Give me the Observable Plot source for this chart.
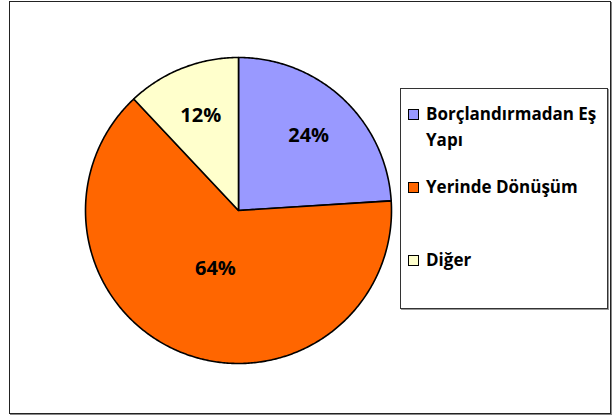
<!DOCTYPE html>
<html>
<head>
<meta charset="utf-8">
<script src="https://cdn.jsdelivr.net/npm/d3@7"></script>
<script src="https://cdn.jsdelivr.net/npm/@observablehq/plot@0.6"></script>
<style>
  html, body { margin: 0; padding: 0; background: #fff; }
  #wrap { position: relative; width: 613px; height: 417px; overflow: hidden; font-family: "Open Sans", sans-serif; }
  #frame { position: absolute; left: 9px; top: 1px; width: 600px; height: 411px; border: 1px solid #222; box-shadow: 1px 1px 0 #888; }
  #chart { position: absolute; left: 0; top: 0; }
  #legend { position: absolute; left: 400px; top: 88px; width: 206px; height: 219px; border: 1px solid #333; box-shadow: 1px 1px 0 #999; background: #fff; }
  .item { position: absolute; left: 7px; font-weight: 700; font-size: 17px; line-height: 26px; color: #000; }
  .sw { position: absolute; left: 0; width: 9px; height: 9px; border: 1.5px solid #000; }
  .lbl { position: absolute; left: 18px; white-space: nowrap; }
</style>
</head>
<body>
<div id="wrap">
  <div id="frame"></div>
  <div id="chart"></div>
  <div id="legend"></div>
</div>
<script>
const categories = ["Borçlandırmadan Eş Yapı", "Yerinde Dönüşüm", "Diğer"];
const legendLines = [["Borçlandırmadan Eş", "Yapı"], ["Yerinde Dönüşüm"], ["Diğer"]];
const values = [24, 64, 12];
const labels = ["24%", "64%", "12%"];
const colors = ["#9999FF", "#FF6600", "#FFFFCC"];

const data = categories.map((c, i) => ({name: c, value: values[i], label: labels[i]}));
const arcs = d3.pie().sort(null).value(d => d.value)(data);

// Build slice outlines (unit circle coordinates) from the pie angles
const pts = [];
for (const a of arcs) {
  const n = Math.max(2, Math.ceil((a.endAngle - a.startAngle) / 0.01));
  pts.push({name: a.data.name, x: 0, y: 0});
  for (let k = 0; k <= n; k++) {
    const t = a.startAngle + (a.endAngle - a.startAngle) * k / n;
    pts.push({name: a.data.name, x: Math.sin(t), y: Math.cos(t)});
  }
  pts.push({name: a.data.name, x: 0, y: 0});
}

const labelPts = arcs.map(a => {
  const mid = (a.startAngle + a.endAngle) / 2;
  const r = a.data.value > 50 ? 0.41 : 0.67;
  return {label: a.data.label, x: r * Math.sin(mid), y: r * Math.cos(mid)};
});

const chart = Plot.plot({
  width: 613,
  height: 417,
  marginLeft: 85,
  marginRight: 222,
  marginTop: 57,
  marginBottom: 54,
  x: {domain: [-1, 1], axis: null},
  y: {domain: [-1, 1], axis: null},
  color: {domain: categories, range: colors},
  style: {background: "transparent", overflow: "visible"},
  marks: [
    Plot.line(pts, {x: "x", y: "y", z: "name", fill: "name", stroke: "#000", strokeWidth: 1.6, strokeLinejoin: "round"}),
    Plot.text(labelPts, {x: "x", y: "y", text: "label", fontSize: 20, fontWeight: 700, fill: "#000", fontFamily: "Open Sans"})
  ]
});
document.getElementById("chart").appendChild(chart);

// Legend
const legend = document.getElementById("legend");
const tops = [12, 85, 158];
categories.forEach((c, i) => {
  const item = document.createElement("div");
  item.className = "item";
  item.style.top = tops[i] + "px";
  const sw = document.createElement("div");
  sw.className = "sw";
  sw.style.background = colors[i];
  sw.style.top = "8px";
  item.appendChild(sw);
  const lbl = document.createElement("div");
  lbl.className = "lbl";
  lbl.innerHTML = legendLines[i].map(s => s.replace(/&/g, "&amp;")).join("<br>");
  item.appendChild(lbl);
  legend.appendChild(item);
});
</script>
</body>
</html>
